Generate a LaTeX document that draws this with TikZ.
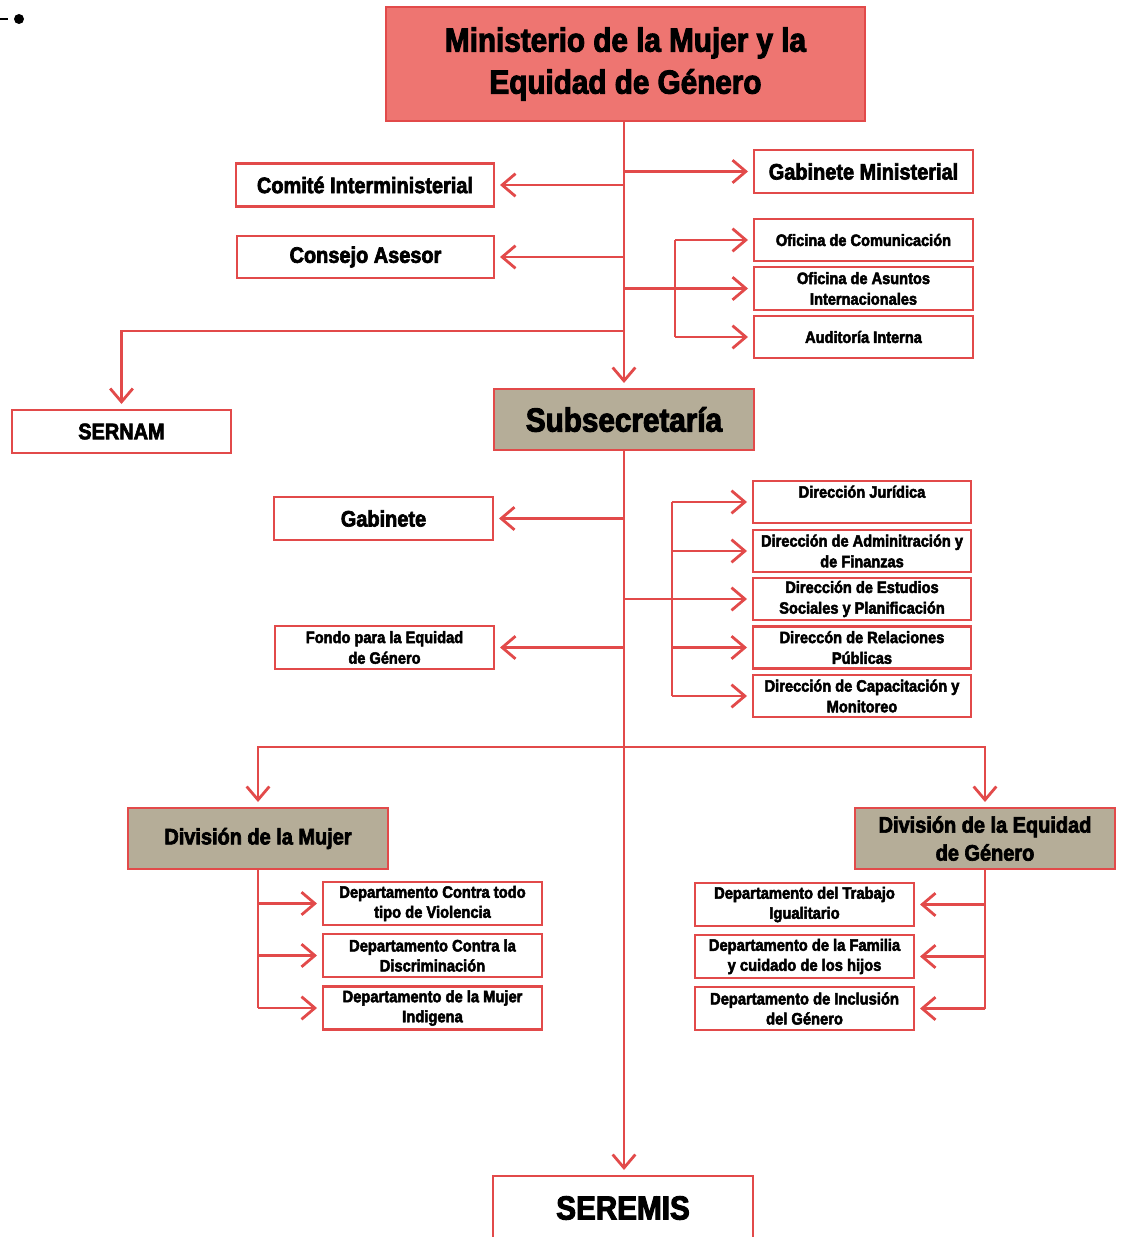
\documentclass[tikz,border=0pt]{standalone}
\usepackage{fontspec}
\setmainfont{Liberation Sans}[FakeStretch=0.89,BoldFont={Liberation Sans Bold},BoldFeatures={FakeBold=3}]
\usetikzlibrary{arrows.meta}
\definecolor{linered}{RGB}{226,74,74}
\definecolor{salmon}{RGB}{238,117,113}
\definecolor{tan}{RGB}{181,173,152}

\begin{document}
\begin{tikzpicture}[x=0.75pt,y=-0.75pt,
    >={Straight Barb[length=10pt,width=17pt]},
    box/.style={draw=linered,line width=2pt,fill=white,align=center,inner sep=0pt,font=\bfseries},
    wide/.style={box,minimum width=164.25pt,minimum height=32.25pt},
    big/.style={box,minimum width=195pt,minimum height=45.75pt},
    link/.style={draw=linered,line width=2.1pt},
    arr/.style={link,->,shorten >=3.5pt}]
  \useasboundingbox (0,0) rectangle (1121,1237);

  \draw[line width=1.5pt] (0,19) -- (8,19);
  \fill (19,19) circle (5);

  \begin{scope}
    \node[box,fill=salmon,minimum width=359.25pt,minimum height=85.5pt,font=\bfseries\fontsize{25}{31.5}\selectfont] (mini) at (625.5,64) {Ministerio de la Mujer y la\\Equidad de Género};
    \node[wide,font=\bfseries\fontsize{16.8}{18}\selectfont] (gabmin) at (863.5,171.5) {Gabinete Ministerial};
    \node[box,minimum width=193.5pt,minimum height=32.25pt,font=\bfseries\fontsize{16.8}{18}\selectfont] (comite) at (365,185) {Comité Interministerial};
    \node[box,minimum width=192.75pt,minimum height=31.5pt,font=\bfseries\fontsize{16.8}{18}\selectfont] (consejo) at (365.5,257) {Consejo Asesor};
    \node[wide,minimum height=31.5pt,font=\bfseries\fontsize{12.3}{15}\selectfont] (ofcom) at (863.5,240) {Oficina de Comunicación};
    \node[wide,font=\bfseries\fontsize{12.3}{15.5}\selectfont] (ofint) at (863.5,288.5) {Oficina de Asuntos\\Internacionales};
    \node[wide,minimum height=31.5pt,font=\bfseries\fontsize{12.3}{15}\selectfont] (audit) at (863.5,337) {Auditoría Interna};
    \node[wide,font=\bfseries\fontsize{16.8}{18}\selectfont] (sernam) at (121.5,431.5) {SERNAM};
    \node[big,fill=tan,font=\bfseries\fontsize{25}{30}\selectfont] (subsec) at (624,419.5) {Subsecretaría};

    \node[wide,font=\bfseries\fontsize{16.8}{18}\selectfont] (gab) at (383.5,518.5) {Gabinete};
    \node[wide,font=\bfseries\fontsize{12.3}{15.5}\selectfont] (fondo) at (384.5,647.5) {Fondo para la Equidad\\de Género};
    \node[wide,minimum width=163.5pt,minimum height=31.5pt,font=\bfseries\fontsize{12.3}{15.5}\selectfont] (djur) at (862,502) {Dirección Jurídica\\\mbox{}};
    \node[wide,minimum width=163.5pt,minimum height=31.5pt,font=\bfseries\fontsize{12.3}{15.5}\selectfont] (dadm) at (862,551) {Dirección de Adminitración y\\de Finanzas};
    \node[wide,minimum width=163.5pt,minimum height=31.5pt,font=\bfseries\fontsize{12.3}{15.5}\selectfont] (dest) at (862,599) {Dirección de Estudios\\Sociales y Planificación};
    \node[wide,minimum width=163.5pt,minimum height=31.5pt,font=\bfseries\fontsize{12.3}{15.5}\selectfont] (drel) at (862,647.5) {Direccón de Relaciones\\Públicas};
    \node[wide,minimum width=163.5pt,minimum height=31.5pt,font=\bfseries\fontsize{12.3}{15.5}\selectfont] (dcap) at (862,696) {Dirección de Capacitación y\\Monitoreo};

    \node[big,fill=tan,font=\bfseries\fontsize{16.8}{21}\selectfont] (divm) at (258,838.5) {División de la Mujer};
    \node[big,fill=tan,font=\bfseries\fontsize{16.8}{21}\selectfont] (dive) at (985,838.5) {División de la Equidad\\de Género};

    \node[wide,font=\bfseries\fontsize{12.4}{15}\selectfont] (dviol) at (432.5,903.5) {Departamento Contra todo\\tipo de Violencia};
    \node[wide,font=\bfseries\fontsize{12.4}{15}\selectfont] (ddisc) at (432.5,955.5) {Departamento Contra la\\Discriminación};
    \node[wide,font=\bfseries\fontsize{12.4}{15}\selectfont] (dind) at (432.5,1008) {Departamento de la Mujer\\Indigena};
    \node[wide,font=\bfseries\fontsize{12.4}{15}\selectfont] (dtrab) at (804.5,904.5) {Departamento del Trabajo\\Igualitario};
    \node[wide,font=\bfseries\fontsize{12.4}{15}\selectfont] (dfam) at (804.5,956.5) {Departamento de la Familia\\y cuidado de los hijos};
    \node[wide,font=\bfseries\fontsize{12.4}{15}\selectfont] (dincl) at (804.5,1008.5) {Departamento de Inclusión\\del Género};

    \node[big,minimum height=48pt,font=\bfseries\fontsize{25}{30}\selectfont] (seremis) at (623,1208) {SEREMIS};
  \end{scope}

  \coordinate (ofbar) at (675,288.5);
  \coordinate (sernamsplit) at (624,331);
  \coordinate (dirbar) at (672,599);
  \coordinate (divsplit) at (623,747);

  \draw[arr] (mini.south -| subsec.north) -- (subsec.north);
  \draw[arr] (subsec.north |- gabmin.west) -- (gabmin.west);
  \draw[arr] (subsec.north |- comite.east) -- (comite.east);
  \draw[arr] (subsec.north |- consejo.east) -- (consejo.east);
  \draw[arr] (subsec.north |- ofint.west) -- (ofint.west);
  \draw[link] (ofbar |- ofcom.west) -- (ofbar |- audit.west);
  \draw[arr] (ofbar |- ofcom.west) -- (ofcom.west);
  \draw[arr] (ofbar |- audit.west) -- (audit.west);
  \draw[link] (sernamsplit) -- (subsec.north |- sernamsplit);
  \draw[arr] (sernamsplit) -| (sernam.north);

  \draw[arr] (subsec.south) -- (subsec.south |- seremis.north);
  \draw[arr] (subsec.south |- gab.east) -- (gab.east);
  \draw[arr] (subsec.south |- fondo.east) -- (fondo.east);
  \draw[arr] (subsec.south |- dest.west) -- (dest.west);
  \draw[link] (dirbar |- djur.west) -- (dirbar |- dcap.west);
  \draw[arr] (dirbar |- djur.west) -- (djur.west);
  \draw[arr] (dirbar |- dadm.west) -- (dadm.west);
  \draw[arr] (dirbar |- drel.west) -- (drel.west);
  \draw[arr] (dirbar |- dcap.west) -- (dcap.west);

  \draw[arr] (divsplit) -| (divm.north);
  \draw[arr] (divsplit) -| (dive.north);

  \draw[link] (divm.south) -- (divm.south |- dind.west);
  \draw[arr] (divm.south |- dviol.west) -- (dviol.west);
  \draw[arr] (divm.south |- ddisc.west) -- (ddisc.west);
  \draw[arr] (divm.south |- dind.west) -- (dind.west);
  \draw[link] (dive.south) -- (dive.south |- dincl.east);
  \draw[arr] (dive.south |- dtrab.east) -- (dtrab.east);
  \draw[arr] (dive.south |- dfam.east) -- (dfam.east);
  \draw[arr] (dive.south |- dincl.east) -- (dincl.east);
\end{tikzpicture}
\end{document}
